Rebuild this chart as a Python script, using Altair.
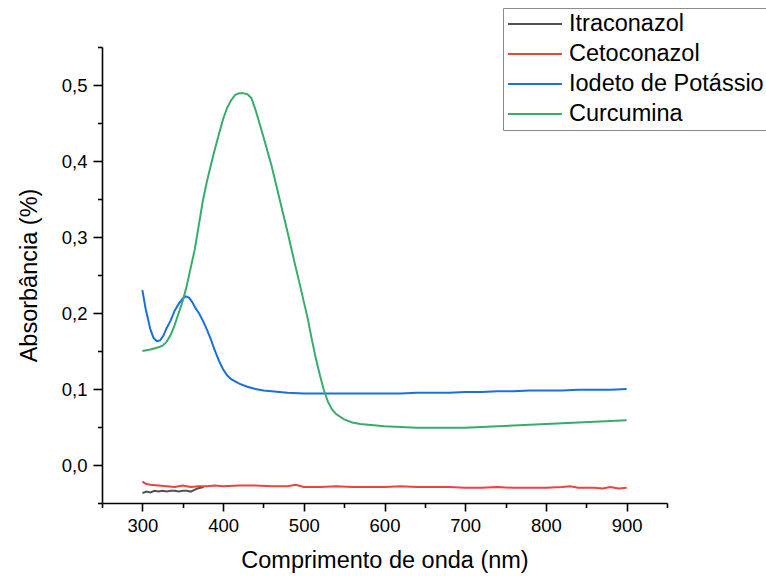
import altair as alt
import pandas as pd

FONT = "Liberation Sans"

series_names = ["Itraconazol", "Cetoconazol", "Iodeto de Potássio", "Curcumina"]
series_colors = ["#515151", "#F14040", "#1A6FDF", "#37AD6B"]

# Itraconazol
itra_nm = [300, 305, 310, 315, 320, 325, 330, 335, 340, 345, 350, 355, 360, 364, 368, 372, 376]
itra_abs = [-0.037, -0.035, -0.036, -0.034, -0.035, -0.034, -0.035, -0.034, -0.034, -0.035,
            -0.034, -0.034, -0.035, -0.033, -0.031, -0.030, -0.029]

# Cetoconazol
ceto_nm = [300, 305, 310, 320, 330, 340, 350, 360, 370, 380, 390, 400, 420, 440, 460, 480, 490,
           500, 520, 540, 560, 580, 600, 620, 640, 660, 680, 700, 720, 740, 760, 780, 800,
           820, 830, 840, 860, 870, 880, 890, 900]
ceto_abs = [-0.022, -0.025, -0.026, -0.027, -0.028, -0.029, -0.027, -0.029, -0.028, -0.028,
            -0.027, -0.028, -0.027, -0.027, -0.028, -0.028, -0.026, -0.029, -0.029, -0.028,
            -0.029, -0.029, -0.029, -0.028, -0.029, -0.029, -0.029, -0.030, -0.030, -0.029,
            -0.030, -0.030, -0.030, -0.029, -0.028, -0.030, -0.030, -0.031, -0.029, -0.031,
            -0.030]

# Iodeto de Potássio
iod_nm = [300, 304, 307, 310, 314, 318, 322, 326, 330, 335, 340, 345, 350, 354, 358, 362, 366,
          370, 375, 380, 385, 390, 395, 400, 405, 410, 420, 430, 440, 450, 460, 470, 480, 500,
          520, 540, 560, 580, 600, 620, 640, 660, 680, 700, 720, 740, 760, 780, 800, 820, 840,
          860, 880, 900]
iod_abs = [0.230, 0.206, 0.192, 0.178, 0.167, 0.163, 0.164, 0.170, 0.180, 0.190, 0.203, 0.212,
           0.219, 0.222, 0.220, 0.214, 0.206, 0.200, 0.190, 0.178, 0.165, 0.150, 0.137, 0.126,
           0.118, 0.113, 0.107, 0.103, 0.100, 0.098, 0.097, 0.096, 0.095, 0.094, 0.094, 0.094,
           0.094, 0.094, 0.094, 0.094, 0.095, 0.095, 0.095, 0.096, 0.096, 0.097, 0.097, 0.098,
           0.098, 0.098, 0.099, 0.099, 0.099, 0.100]

# Curcumina
cur_nm = [300, 310, 320, 325, 330, 335, 340, 345, 350, 355, 360, 365, 370, 375, 380, 385, 390,
          395, 400, 405, 410, 415, 420, 425, 430, 435, 440, 445, 450, 455, 460, 465, 470, 475,
          480, 485, 490, 495, 500, 505, 510, 515, 520, 525, 530, 535, 540, 550, 560, 570, 580,
          600, 620, 640, 660, 680, 700, 720, 740, 760, 780, 800, 820, 840, 860, 880, 900]
cur_abs = [0.150, 0.152, 0.155, 0.157, 0.162, 0.171, 0.184, 0.200, 0.216, 0.236, 0.260, 0.284,
           0.316, 0.348, 0.373, 0.395, 0.416, 0.436, 0.455, 0.470, 0.480, 0.487, 0.489, 0.489,
           0.488, 0.483, 0.468, 0.450, 0.432, 0.413, 0.394, 0.372, 0.350, 0.328, 0.306, 0.283,
           0.260, 0.238, 0.215, 0.192, 0.165, 0.140, 0.118, 0.098, 0.083, 0.073, 0.067, 0.060,
           0.056, 0.054, 0.053, 0.051, 0.050, 0.049, 0.049, 0.049, 0.049, 0.050, 0.051, 0.052,
           0.053, 0.054, 0.055, 0.056, 0.057, 0.058, 0.059]

x_ticks = [250, 300, 350, 400, 450, 500, 550, 600, 650, 700, 750, 800, 850, 900, 950]
y_ticks = [-0.05, 0.0, 0.05, 0.1, 0.15, 0.2, 0.25, 0.3, 0.35, 0.4, 0.45, 0.5, 0.55]

frames = []
for name, xs, ys in [
    (series_names[0], itra_nm, itra_abs),
    (series_names[1], ceto_nm, ceto_abs),
    (series_names[2], iod_nm, iod_abs),
    (series_names[3], cur_nm, cur_abs),
]:
    frames.append(pd.DataFrame({"nm": xs, "abs": ys, "serie": name,
                                "ordem": series_names.index(name)}))
df = pd.concat(frames, ignore_index=True)

x_major = "datum.value % 100 == 0 && datum.value >= 300 && datum.value <= 900"
y_major = "abs(datum.value * 10 - round(datum.value * 10)) < 0.001 && datum.value > -0.01 && datum.value < 0.51"

chart = alt.Chart(df).mark_line(strokeWidth=2, clip=True).encode(
    x=alt.X("nm:Q",
            scale=alt.Scale(domain=[250, 950], nice=False, zero=False),
            axis=alt.Axis(title="Comprimento de onda (nm)", values=x_ticks,
                          labelExpr=f"({x_major}) ? datum.value : ''",
                          tickSize={"condition": {"test": x_major, "value": 8}, "value": 4.5},
                          labelPadding=5, titlePadding=14)),
    y=alt.Y("abs:Q",
            scale=alt.Scale(domain=[-0.05, 0.55], nice=False, zero=False),
            axis=alt.Axis(title="Absorbância (%)", values=y_ticks,
                          labelExpr=f"({y_major}) ? replace(format(datum.value, '.1f'), '.', ',') : ''",
                          tickSize={"condition": {"test": y_major, "value": 9}, "value": 4.5},
                          labelPadding=6, titlePadding=20)),
    color=alt.Color("serie:N",
                    scale=alt.Scale(domain=series_names, range=series_colors),
                    legend=alt.Legend(orient="none", legendX=401, legendY=-39, title=None,
                                      symbolType="stroke", symbolSize=2900,
                                      symbolStrokeWidth=2, labelFontSize=23.5,
                                      labelFont=FONT, labelColor="black", labelLimit=500,
                                      strokeColor="#8c8c8c", padding=4, rowPadding=6,
                                      clipHeight=24, labelOffset=6)),
    order=alt.Order("ordem:Q"),
    detail="serie:N",
).properties(
    width=565, height=456,
    padding={"left": 102, "top": 47, "right": 99, "bottom": 73},
    autosize=alt.AutoSizeParams(type="none"),
    background="white",
).configure_view(stroke=None).configure_axis(
    grid=False, domainColor="black", domainWidth=1.6, tickColor="black", tickWidth=1.6,
    labelFont=FONT, labelFontSize=18.5, labelColor="black", labelOverlap=False, labelFlush=False,
    titleFont=FONT, titleFontSize=23.5, titleColor="black", titleFontWeight="normal",
)

chart.save("out.html", embed_options={"renderer": "svg", "actions": False})
